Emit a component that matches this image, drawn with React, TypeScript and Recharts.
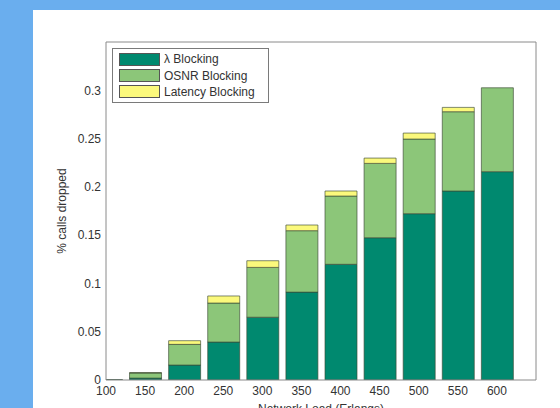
import React from 'react';
import { BarChart, Bar, XAxis, YAxis } from 'recharts';

// Network load levels (Erlangs)
const loads = [100, 150, 200, 250, 300, 350, 400, 450, 500, 550, 600];
// Share of calls dropped per blocking cause
const lambdaBlocking = [0.0005, 0.002, 0.0155, 0.0393, 0.065, 0.091, 0.1198, 0.1473, 0.1722, 0.1957, 0.2157];
const osnrBlocking = [0, 0.0053, 0.0214, 0.0404, 0.0516, 0.0636, 0.0707, 0.077, 0.0773, 0.0821, 0.0869];
const latencyBlocking = [0, 0.0003, 0.0038, 0.0073, 0.0069, 0.0059, 0.0052, 0.0055, 0.0062, 0.0045, 0];

const xTicks = [100, 150, 200, 250, 300, 350, 400, 450, 500, 550, 600];
const yTicks = [0, 0.05, 0.1, 0.15, 0.2, 0.25, 0.3];

const series = [
  { key: 'lambda', name: 'λ Blocking', color: '#00896f' },
  { key: 'osnr', name: 'OSNR Blocking', color: '#8cc679' },
  { key: 'latency', name: 'Latency Blocking', color: '#fbf97c' },
];

const data = loads.map((load, i) => ({
  load,
  lambda: lambdaBlocking[i],
  osnr: osnrBlocking[i],
  latency: latencyBlocking[i],
}));

const FONT = '"Liberation Sans", Arial, sans-serif';
const TEXT = '#333333';
const AXIS = '#8a8a8a';

export default function App() {
  const tickStyle = { fill: TEXT, fontSize: 12, fontFamily: FONT };
  return (
    <div style={{ position: 'fixed', left: 0, top: 0, width: 560, height: 408, background: '#6aaeee', overflow: 'hidden' }}>
      <div style={{ position: 'absolute', left: 33, top: 10, width: 527, height: 398, background: '#ffffff' }} />
      <div style={{ position: 'absolute', left: 0, top: 0 }}>
        <BarChart width={560} height={408} data={data} margin={{ top: 42, right: 24, bottom: 0, left: 0 }}>
          {/* labelled axes */}
          <XAxis
            xAxisId="main"
            dataKey="load"
            type="number"
            domain={[100, 650]}
            ticks={xTicks}
            allowDataOverflow
            height={28}
            tickLine={false}
            tickSize={0}
            tickMargin={6}
            tick={tickStyle}
            axisLine={{ stroke: AXIS }}
            label={{ value: 'Network Load (Erlangs)', position: 'insideBottom', offset: -5, fill: TEXT, fontSize: 12, fontFamily: FONT }}
          />
          <YAxis
            yAxisId="main"
            type="number"
            domain={[0, 0.35]}
            ticks={yTicks}
            allowDataOverflow
            width={106}
            tickLine={false}
            tickSize={0}
            tickMargin={5}
            tick={tickStyle}
            axisLine={{ stroke: AXIS }}
            label={{ value: '% calls dropped', angle: -90, position: 'insideLeft', offset: 62, fill: TEXT, fontSize: 12, fontFamily: FONT, style: { textAnchor: 'middle' } }}
          />
          {/* inward tick marks on all four sides */}
          <XAxis xAxisId="bottomTicks" dataKey="load" type="number" domain={[100, 650]} ticks={xTicks} orientation="bottom" mirror height={1} tick={false} tickSize={5} axisLine={false} tickLine={{ stroke: AXIS }} />
          <XAxis xAxisId="topTicks" dataKey="load" type="number" domain={[100, 650]} ticks={xTicks} orientation="top" mirror height={1} tick={false} tickSize={5} axisLine={{ stroke: AXIS }} tickLine={{ stroke: AXIS }} />
          <YAxis yAxisId="leftTicks" type="number" domain={[0, 0.35]} ticks={yTicks} orientation="left" mirror width={1} tick={false} tickSize={5} axisLine={false} tickLine={{ stroke: AXIS }} />
          <YAxis yAxisId="rightTicks" type="number" domain={[0, 0.35]} ticks={yTicks} orientation="right" mirror width={1} tick={false} tickSize={5} axisLine={{ stroke: AXIS }} tickLine={{ stroke: AXIS }} />
          {series.map((s) => (
            <Bar
              key={s.key}
              dataKey={s.key}
              name={s.name}
              stackId="blocking"
              xAxisId="main"
              yAxisId="main"
              fill={s.color}
              stroke="#3c4a36"
              strokeOpacity={0.65}
              strokeWidth={1}
              barSize={32}
              isAnimationActive={false}
            />
          ))}
        </BarChart>
      </div>
      {/* legend */}
      <div
        style={{
          position: 'absolute',
          left: 112,
          top: 48,
          width: 155,
          height: 51,
          border: '1px solid #7a7a7a',
          background: '#ffffff',
          boxSizing: 'content-box',
          paddingTop: 2,
          fontFamily: FONT,
          fontSize: 12,
          color: TEXT,
        }}
      >
        {series.map((s) => (
          <div key={s.key} style={{ display: 'flex', alignItems: 'center', height: 16.4 }}>
            <div style={{ marginLeft: 6, width: 39, height: 11, background: s.color, border: '1px solid #555' }} />
            <span style={{ marginLeft: 4, whiteSpace: 'nowrap', lineHeight: '14px' }}>{s.name}</span>
          </div>
        ))}
      </div>
    </div>
  );
}
